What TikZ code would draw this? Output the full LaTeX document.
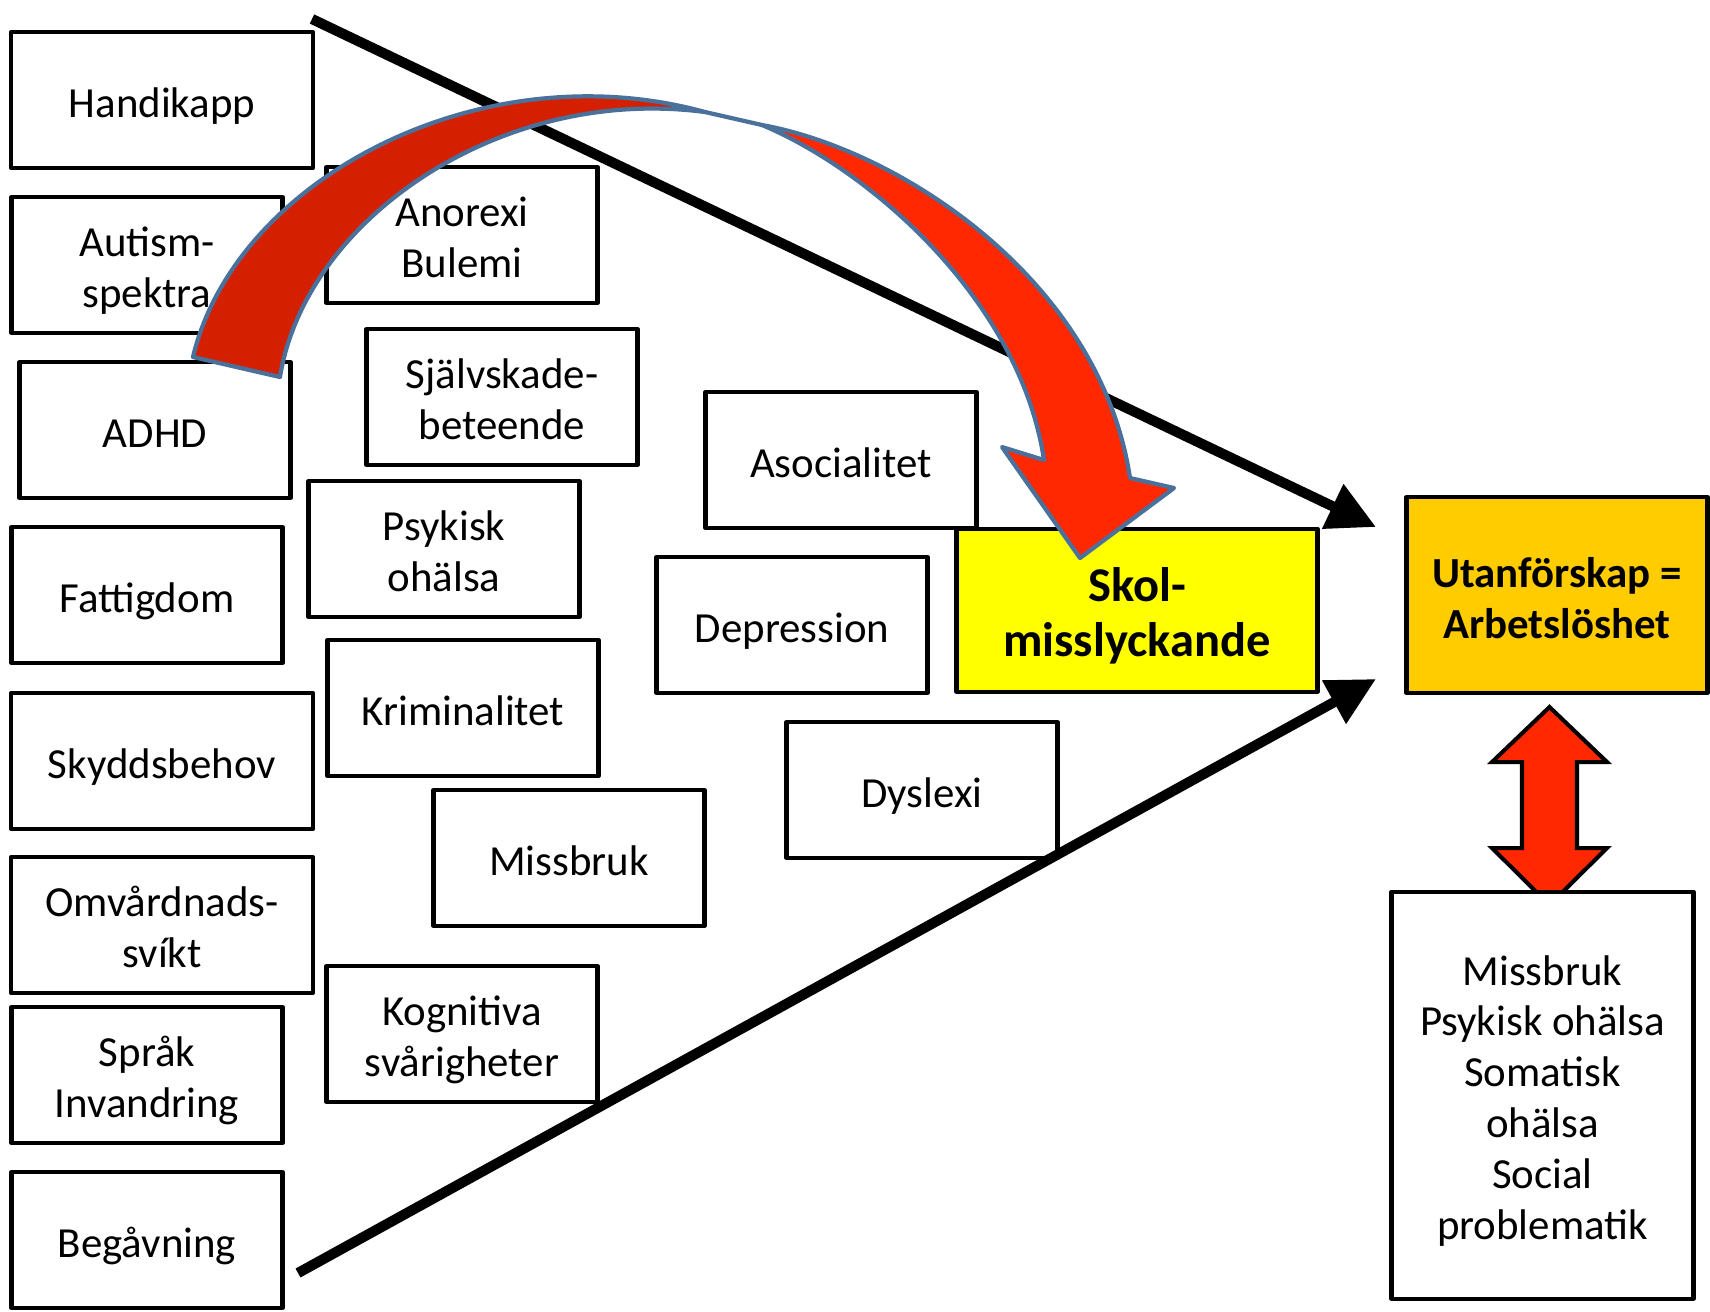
\documentclass[tikz,border=0pt]{standalone}
\usepackage{fontspec}
\setmainfont{Carlito}
\usetikzlibrary{arrows.meta}

\definecolor{skolyellow}{RGB}{255,255,0}
\definecolor{utangold}{RGB}{255,204,0}
\definecolor{arrowred}{RGB}{255,40,0}
\definecolor{arrowdark}{RGB}{213,32,0}
\definecolor{arrowedge}{RGB}{74,112,156}

\tikzset{
  box/.style={draw, line width=1.15pt, line join=round, fill=white, minimum width=2.71cm, minimum height=1.36cm,
    inner xsep=0pt, text width=2.6cm, align=flush center, font=\fontsize{12.2}{14.5}\selectfont,
    execute at begin node={\rule{0pt}{12.9pt}}, execute at end node={\rule[-3pt]{0pt}{3pt}}},
  widebox/.style={box, minimum width=3.02cm, text width=2.9cm},
  bigarrow/.style={line width=2.9pt, -{Triangle[length=4.8mm, width=4.7mm]}},
  curvearrow/.style={draw=arrowedge, line width=1.2pt, line join=round}
}

\begin{document}
\begin{tikzpicture}[x=0.1mm, y=-0.1mm]
\useasboundingbox (0,0) rectangle (1710,1311);

% Causes (left column)
\node[widebox] (handikapp) at (162,100) {Handikapp};
\node[box] (autism) at (147,265) {Autism-\\spektra};
\node[box] (adhd) at (155,430) {ADHD};
\node[box] (fattigdom) at (147,595) {Fattigdom};
\node[widebox] (skydd) at (162,761) {Skyddsbehov};
\node[widebox] (omvard) at (162,925) {Omvårdnads-\\svíkt};
\node[box] (sprak) at (147,1075) {Språk\\Invandring};
\node[box] (begavning) at (147,1240) {Begåvning};

% Causes (middle column)
\node[box] (anorexi) at (462,235) {Anorexi\\Bulemi};
\node[box] (sjalvskada) at (502,397) {Självskade-\\beteende};
\node[box] (psykisk) at (444,549) {Psykisk\\ohälsa};
\node[box] (krim) at (463,708) {Kriminalitet};
\node[box] (missbruk) at (569,858) {Missbruk};
\node[box] (kognitiva) at (462,1034) {Kognitiva\\svårigheter};

% Causes (right column)
\node[box] (asocial) at (841,460) {Asocialitet};
\node[box] (depression) at (792,625) {Depression};
\node[box] (dyslexi) at (922,790) {Dyslexi};

% Outcomes
\node[box, fill=skolyellow, minimum width=3.61cm, minimum height=1.63cm, text width=3.4cm, font=\bfseries\fontsize{13.8}{15.6}\selectfont,
  execute at begin node={\rule{0pt}{14.5pt}}, execute at end node={\rule[-3.5pt]{0pt}{3.5pt}}] (skol) at (1137,610) {Skol-\\misslyckande};
\node[box, fill=utangold, minimum width=3.01cm, minimum height=1.96cm, text width=2.9cm, font=\bfseries\fontsize{12.2}{14.5}\selectfont,
  execute at begin node={\rule{0pt}{13.5pt}}] (utan) at (1557,595) {Utanförskap =\\Arbetslöshet};

% Funnel arrows
\coordinate (topfrom) at (312,19);
\coordinate (topto) at (1376,527);
\coordinate (lowfrom) at (298,1273);
\coordinate (lowto) at (1376,679);
\draw[bigarrow] (topfrom) -- (topto);
\draw[bigarrow] (lowfrom) -- (lowto);

% Curved arrow
\draw[curvearrow, fill=arrowdark] (193,357) .. controls (235,180) and (480,50) .. (705,112)
  .. controls (500,85) and (305,220) .. (280,377) -- cycle;
\draw[curvearrow, fill=arrowred] (762,125) .. controls (900,150) and (1100,280) .. (1130,478)
  -- (1174,488) -- (1080,558) -- (1002,447) -- (1044,460)
  .. controls (1020,300) and (870,170) .. (762,125) -- cycle;
\draw[curvearrow] (705,112) -- (762,125);

% Double arrow
\draw[line width=1.15pt, fill=arrowred] (1549.5,707) -- (1607,762) -- (1577,762) -- (1577,848) -- (1607,848)
  -- (1549.5,905) -- (1492,848) -- (1522,848) -- (1522,762) -- (1492,762) -- cycle;

\node[box, minimum width=3.02cm, minimum height=4.07cm, text width=2.9cm] (effekter) at (1542.5,1095) {Missbruk\\Psykisk ohälsa\\Somatisk\\ohälsa\\Social\\problematik};
\end{tikzpicture}
\end{document}
